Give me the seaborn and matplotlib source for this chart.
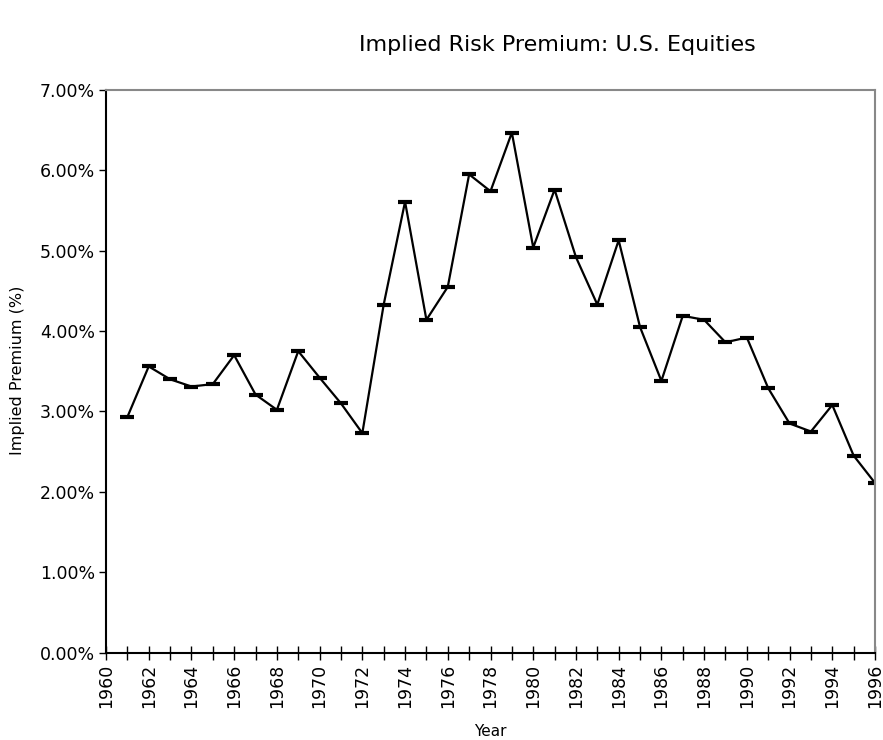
import matplotlib
matplotlib.use("Agg")
import matplotlib.pyplot as plt
import seaborn as sns
import pandas as pd
from matplotlib.ticker import FuncFormatter, MultipleLocator

years = list(range(1961, 1997))
premium = [2.93, 3.56, 3.40, 3.31, 3.34, 3.70, 3.21, 3.02, 3.75, 3.42,
           3.10, 2.73, 4.33, 5.61, 4.14, 4.55, 5.95, 5.74, 6.47, 5.04,
           5.76, 4.92, 4.33, 5.13, 4.05, 3.38, 4.19, 4.14, 3.86, 3.92,
           3.29, 2.85, 2.75, 3.08, 2.45, 2.11]

df = pd.DataFrame({"Year": years, "Premium": premium})

sns.set_style("white")
plt.rcParams["font.family"] = ["DejaVu Sans"]
plt.rcParams["text.color"] = "black"
plt.rcParams["axes.labelcolor"] = "black"
plt.rcParams["xtick.color"] = "black"
plt.rcParams["ytick.color"] = "black"

fig = plt.figure(figsize=(8.83, 7.4), dpi=100)
ax = fig.add_axes([106 / 883, 1 - 652.5 / 740, (875 - 106) / 883, (652.5 - 90) / 740])

sns.lineplot(data=df, x="Year", y="Premium", ax=ax, color="black", linewidth=1.6,
             marker="_", markersize=10, markeredgewidth=3, markeredgecolor="black")

ax.set_xlim(1960, 1996)
ax.set_ylim(0, 7)
ax.xaxis.set_major_locator(MultipleLocator(2))
ax.xaxis.set_minor_locator(MultipleLocator(1))
ax.yaxis.set_major_locator(MultipleLocator(1))
ax.yaxis.set_major_formatter(FuncFormatter(lambda v, p: f"{v:.2f}%"))
ax.tick_params(axis="x", which="both", direction="inout", length=10, width=1,
               labelrotation=90, labelsize=12.5, pad=3, bottom=True)
ax.tick_params(axis="y", direction="out", length=5, width=1, labelsize=12.5, left=True, pad=3)

for s in ["left", "bottom"]:
    ax.spines[s].set_color("black")
    ax.spines[s].set_linewidth(1.5)
for s in ["top", "right"]:
    ax.spines[s].set_color("#888888")
    ax.spines[s].set_linewidth(1.5)

ax.set_xlabel("Year", fontsize=11)
ax.set_ylabel("Implied Premium (%)", fontsize=11.5)
ax.xaxis.set_label_coords((490 - 106) / 769, -(724 - 652.5) / 562.5)
ax.yaxis.set_label_coords(-(106 - 25) / 769, (652.5 - 370) / 562.5)

fig.text(557 / 883, 1 - 45 / 740, "Implied Risk Premium: U.S. Equities",
         ha="center", va="center", fontsize=16)

fig.savefig("out.png", dpi=100)
